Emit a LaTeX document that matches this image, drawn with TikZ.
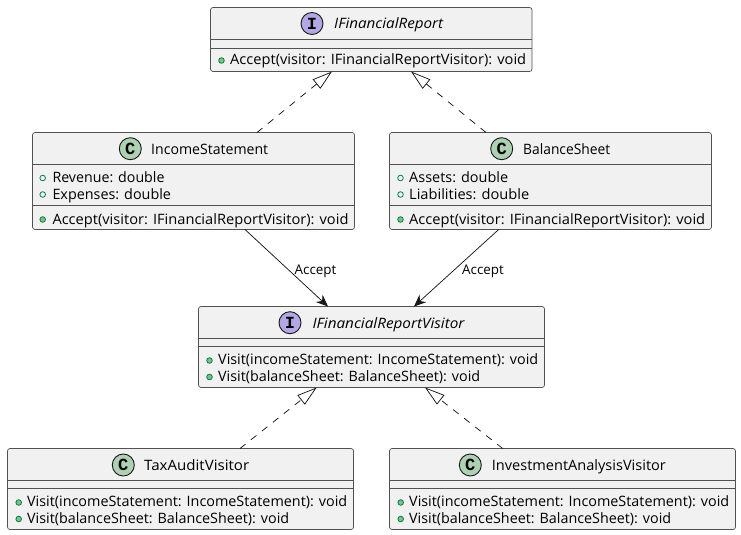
\documentclass[tikz,border=0pt]{standalone}
\usepackage{fontspec}
\setmainfont{Open Sans}
\newfontfamily\spotfont{Liberation Mono}
\usetikzlibrary{arrows.meta}
\definecolor{boxfill}{HTML}{F1F1F1}
\definecolor{edge}{HTML}{181818}
\definecolor{ifacespot}{HTML}{B4A7E5}
\definecolor{classspot}{HTML}{ADD1B2}
\definecolor{visline}{HTML}{038048}
\definecolor{visfill}{HTML}{84BE84}
\tikzset{
  x=1pt,y=-1pt,
  umlbox/.style={draw=edge!75,line width=.7pt,fill=boxfill,rounded corners=2.5pt,anchor=north west,inner sep=0pt,outer sep=0pt},
  sep/.style={draw=edge!75,line width=.7pt},
  member/.style={anchor=base west,inner sep=0pt,font=\fontsize{14.3}{16}\selectfont,text=black},
  head/.style={member},
  ihead/.style={member,font=\fontsize{14.3}{16}\selectfont\itshape},
  spot/.style={circle,draw=edge,line width=.9pt,minimum size=22pt,inner sep=0pt,font=\fontsize{17}{17}\spotfont\bfseries},
  ispot/.style={spot,fill=ifacespot},
  cspot/.style={spot,fill=classspot},
  field/.style={circle,draw=visline,line width=.8pt,fill=none,minimum size=5.6pt,inner sep=0pt},
  method/.style={circle,draw=visline,line width=.8pt,fill=visfill,minimum size=5.6pt,inner sep=0pt},
  realize/.style={draw=edge,line width=.75pt,dash pattern=on 7pt off 7pt,-{Triangle[open,length=20pt,width=12pt,fill=none]}},
  assoc/.style={draw=edge,line width=.75pt,-{Stealth[length=12pt,width=10pt,inset=4pt]}},
  edgelabel/.style={anchor=base west,inner sep=0pt,font=\fontsize{13.4}{14}\selectfont,text=black},
}
\newcommand{\umlbox}[5]{% name, x, y, w, h
  \node[umlbox,minimum width=#4pt,minimum height=#5pt] (#1) at (#2,#3) {};}
\newcommand{\fitw}[2]{\resizebox{#1pt}{\height}{#2}}
\begin{document}
\begin{tikzpicture}
\useasboundingbox (0,0) rectangle (741,535);
% boxes
\umlbox{report}{210.5}{7.5}{321.5}{64}
\umlbox{income}{32.5}{132.5}{322}{97}
\umlbox{balance}{389.5}{132.5}{322}{97}
\umlbox{visitor}{198.5}{306.5}{346}{81}
\umlbox{tax}{7.5}{448.5}{346}{81}
\umlbox{invest}{389.5}{448.5}{346}{81}
% separators
\draw[sep] (210.5,39.5) -- (532,39.5) (210.5,48) -- (532,48);
\draw[sep] (32.5,164.5) -- (354.5,164.5) (32.5,205.5) -- (354.5,205.5);
\draw[sep] (389.5,164.5) -- (711.5,164.5) (389.5,205.5) -- (711.5,205.5);
\draw[sep] (198.5,338.5) -- (544.5,338.5) (198.5,346.5) -- (544.5,346.5);
\draw[sep] (7.5,480.5) -- (353.5,480.5) (7.5,488.7) -- (353.5,488.7);
\draw[sep] (389.5,480.5) -- (735.5,480.5) (389.5,488.7) -- (735.5,488.7);
% spots
\node[ispot] (sr) at (312,23.5) {I};
\node[cspot] (si) at (130.3,148.7) {C};
\node[cspot] (sb) at (501.7,148.7) {C};
\node[ispot] (sv) at (290,322.7) {I};
\node[cspot] (st) at (123.3,465) {C};
\node[cspot] (sn) at (470.3,465) {C};
% titles
\node[ihead] (t1) at (334,28.5) {\fitw{109}{IFinancialReport}};
\node[head] (t2) at (151,154) {\fitw{117}{IncomeStatement}};
\node[head] (t3) at (523,154) {\fitw{87}{BalanceSheet}};
\node[ihead] (t4) at (312.3,328.5) {\fitw{152}{IFinancialReportVisitor}};
\node[head] (t5) at (144,470) {\fitw{105}{TaxAuditVisitor}};
\node[head] (t6) at (491.7,470) {\fitw{174}{InvestmentAnalysisVisitor}};
% members
\node[method] (d1) at (221.5,60.5) {};
\node[member] (m1) at (230,65) {\fitw{296}{Accept(visitor: IFinancialReportVisitor): void}};
\node[field] (d2) at (42.7,178) {};
\node[member] (m2) at (52.3,182.5) {\fitw{112}{Revenue: double}};
\node[field] (d3) at (42.7,194.5) {};
\node[member] (m3) at (52.3,199) {\fitw{118.5}{Expenses: double}};
\node[method] (d4) at (42.7,219.5) {};
\node[member] (m4) at (52.3,224) {\fitw{296}{Accept(visitor: IFinancialReportVisitor): void}};
\node[field] (d5) at (400.5,178) {};
\node[member] (m5) at (409,182.5) {\fitw{99}{Assets: double}};
\node[field] (d6) at (400.5,194.5) {};
\node[member] (m6) at (409,199) {\fitw{120}{Liabilities: double}};
\node[method] (d7) at (400.5,219.5) {};
\node[member] (m7) at (409,224) {\fitw{296}{Accept(visitor: IFinancialReportVisitor): void}};
\node[method] (d8) at (209.5,360.5) {};
\node[member] (m8) at (218,364.7) {\fitw{320}{Visit(incomeStatement: IncomeStatement): void}};
\node[method] (d9) at (209.5,377) {};
\node[member] (m9) at (218,381.2) {\fitw{262}{Visit(balanceSheet: BalanceSheet): void}};
\node[method] (d10) at (18.7,502.5) {};
\node[member] (m10) at (27,506.7) {\fitw{320}{Visit(incomeStatement: IncomeStatement): void}};
\node[method] (d11) at (18.7,519) {};
\node[member] (m11) at (27,523.2) {\fitw{262}{Visit(balanceSheet: BalanceSheet): void}};
\node[method] (d12) at (400.7,502.5) {};
\node[member] (m12) at (409,506.7) {\fitw{320}{Visit(incomeStatement: IncomeStatement): void}};
\node[method] (d13) at (400.7,519) {};
\node[member] (m13) at (409,523.2) {\fitw{262}{Visit(balanceSheet: BalanceSheet): void}};
% connectors
\draw[realize] ([xshift=63.5pt]income.north) -- ([xshift=-39.25pt]report.south);
\draw[realize] ([xshift=-64.5pt]balance.north) -- ([xshift=39.75pt]report.south);
\draw[assoc] ([xshift=51.5pt]income.south) -- ([xshift=-43.5pt]visitor.north);
\draw[assoc] ([xshift=-51.8pt]balance.south) -- ([xshift=42.5pt]visitor.north);
\draw[realize] ([xshift=59.5pt]tax.north) -- ([xshift=-54.8pt]visitor.south);
\draw[realize] ([xshift=-59.8pt]invest.north) -- ([xshift=53.5pt]visitor.south);
% labels
\node[edgelabel] (l1) at (294.5,274.5) {Accept};
\node[edgelabel] (l2) at (462,274.5) {Accept};
\end{tikzpicture}
\end{document}
